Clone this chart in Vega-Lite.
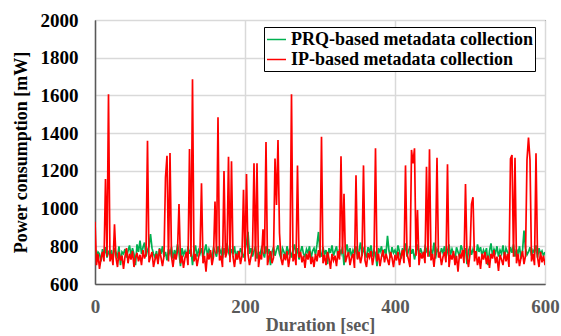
{
"$schema": "https://vega.github.io/schema/vega-lite/v6.json",
"width": 450, "height": 264,
"autosize": {"type": "none"},
"padding": {"left": 95, "top": 20, "right": 16, "bottom": 52},
"background": "white",
"config": {"view": {"stroke": "#000000", "strokeWidth": 1}, "font": "Liberation Serif"},
"data": {"values": [
{"t":0,"prq":790,"ip":930},{"t":2,"prq":745,"ip":700},{"t":4,"prq":770,"ip":760},{"t":6,"prq":760,"ip":680},{"t":8,"prq":720,"ip":735},{"t":10,"prq":785,"ip":770},{"t":12,"prq":750,"ip":720},{"t":14,"prq":795,"ip":1157},{"t":16,"prq":740,"ip":745},{"t":18,"prq":770,"ip":1606},
{"t":20,"prq":755,"ip":720},{"t":22,"prq":780,"ip":760},{"t":24,"prq":730,"ip":700},{"t":26,"prq":790,"ip":917},{"t":28,"prq":765,"ip":740},{"t":30,"prq":745,"ip":690},{"t":32,"prq":800,"ip":770},{"t":34,"prq":700,"ip":725},{"t":36,"prq":770,"ip":750},{"t":38,"prq":760,"ip":680},
{"t":40,"prq":785,"ip":745},{"t":42,"prq":740,"ip":790},{"t":44,"prq":775,"ip":710},{"t":46,"prq":805,"ip":760},{"t":48,"prq":750,"ip":730},{"t":50,"prq":790,"ip":775},{"t":52,"prq":760,"ip":690},{"t":54,"prq":700,"ip":740},{"t":56,"prq":810,"ip":765},{"t":58,"prq":770,"ip":720},
{"t":60,"prq":830,"ip":755},{"t":62,"prq":760,"ip":700},{"t":64,"prq":795,"ip":780},{"t":66,"prq":820,"ip":735},{"t":68,"prq":745,"ip":760},{"t":70,"prq":780,"ip":1360},{"t":72,"prq":800,"ip":715},{"t":74,"prq":865,"ip":745},{"t":76,"prq":790,"ip":770},{"t":78,"prq":760,"ip":690},
{"t":80,"prq":740,"ip":730},{"t":82,"prq":775,"ip":760},{"t":84,"prq":720,"ip":705},{"t":86,"prq":790,"ip":785},{"t":88,"prq":760,"ip":740},{"t":90,"prq":800,"ip":695},{"t":92,"prq":745,"ip":750},{"t":94,"prq":770,"ip":1166},{"t":96,"prq":725,"ip":1280},{"t":98,"prq":785,"ip":720},
{"t":100,"prq":760,"ip":1295},{"t":102,"prq":795,"ip":745},{"t":104,"prq":735,"ip":690},{"t":106,"prq":780,"ip":760},{"t":108,"prq":750,"ip":730},{"t":110,"prq":810,"ip":775},{"t":112,"prq":765,"ip":1024},{"t":114,"prq":695,"ip":710},{"t":116,"prq":790,"ip":750},{"t":118,"prq":755,"ip":685},
{"t":120,"prq":775,"ip":740},{"t":122,"prq":740,"ip":770},{"t":124,"prq":800,"ip":700},{"t":126,"prq":760,"ip":1316},{"t":128,"prq":785,"ip":745},{"t":130,"prq":700,"ip":1686},{"t":132,"prq":770,"ip":720},{"t":134,"prq":805,"ip":760},{"t":136,"prq":745,"ip":695},{"t":138,"prq":780,"ip":740},
{"t":140,"prq":760,"ip":775},{"t":142,"prq":790,"ip":1134},{"t":144,"prq":735,"ip":710},{"t":146,"prq":775,"ip":750},{"t":148,"prq":810,"ip":665},{"t":150,"prq":750,"ip":765},{"t":152,"prq":785,"ip":730},{"t":154,"prq":765,"ip":780},{"t":156,"prq":730,"ip":700},{"t":158,"prq":795,"ip":745},
{"t":160,"prq":770,"ip":1038},{"t":162,"prq":745,"ip":760},{"t":164,"prq":800,"ip":1484},{"t":166,"prq":760,"ip":725},{"t":168,"prq":780,"ip":750},{"t":170,"prq":735,"ip":690},{"t":172,"prq":790,"ip":1199},{"t":174,"prq":755,"ip":740},{"t":176,"prq":815,"ip":770},{"t":178,"prq":770,"ip":1275},
{"t":180,"prq":745,"ip":715},{"t":182,"prq":785,"ip":1251},{"t":184,"prq":760,"ip":745},{"t":186,"prq":800,"ip":690},{"t":188,"prq":730,"ip":760},{"t":190,"prq":775,"ip":730},{"t":192,"prq":750,"ip":775},{"t":194,"prq":790,"ip":705},{"t":196,"prq":765,"ip":750},{"t":198,"prq":740,"ip":1100},
{"t":200,"prq":780,"ip":720},{"t":202,"prq":820,"ip":1183},{"t":204,"prq":877,"ip":760},{"t":206,"prq":760,"ip":700},{"t":208,"prq":790,"ip":745},{"t":210,"prq":745,"ip":780},{"t":212,"prq":775,"ip":1240},{"t":214,"prq":800,"ip":720},{"t":216,"prq":735,"ip":1240},{"t":218,"prq":770,"ip":690},
{"t":220,"prq":755,"ip":755},{"t":222,"prq":790,"ip":730},{"t":224,"prq":765,"ip":890},{"t":226,"prq":740,"ip":760},{"t":228,"prq":800,"ip":1353},{"t":230,"prq":760,"ip":700},{"t":232,"prq":785,"ip":745},{"t":234,"prq":700,"ip":775},{"t":236,"prq":770,"ip":710},{"t":238,"prq":795,"ip":740},
{"t":240,"prq":750,"ip":1265},{"t":242,"prq":780,"ip":1019},{"t":244,"prq":805,"ip":1364},{"t":246,"prq":760,"ip":870},{"t":248,"prq":735,"ip":735},{"t":250,"prq":790,"ip":700},{"t":252,"prq":770,"ip":760},{"t":254,"prq":745,"ip":725},{"t":256,"prq":800,"ip":775},{"t":258,"prq":765,"ip":690},
{"t":260,"prq":785,"ip":745},{"t":262,"prq":740,"ip":1606},{"t":264,"prq":775,"ip":720},{"t":266,"prq":810,"ip":760},{"t":268,"prq":755,"ip":700},{"t":270,"prq":790,"ip":1229},{"t":272,"prq":730,"ip":740},{"t":274,"prq":770,"ip":770},{"t":276,"prq":800,"ip":715},{"t":278,"prq":760,"ip":750},
{"t":280,"prq":745,"ip":685},{"t":282,"prq":785,"ip":760},{"t":284,"prq":765,"ip":730},{"t":286,"prq":800,"ip":775},{"t":288,"prq":735,"ip":705},{"t":290,"prq":775,"ip":745},{"t":292,"prq":790,"ip":690},{"t":294,"prq":755,"ip":760},{"t":296,"prq":810,"ip":720},{"t":298,"prq":876,"ip":780},
{"t":300,"prq":770,"ip":740},{"t":302,"prq":745,"ip":1381},{"t":304,"prq":795,"ip":710},{"t":306,"prq":760,"ip":755},{"t":308,"prq":780,"ip":700},{"t":310,"prq":705,"ip":770},{"t":312,"prq":790,"ip":735},{"t":314,"prq":765,"ip":680},{"t":316,"prq":805,"ip":760},{"t":318,"prq":750,"ip":725},
{"t":320,"prq":775,"ip":750},{"t":322,"prq":800,"ip":695},{"t":324,"prq":740,"ip":775},{"t":326,"prq":785,"ip":730},{"t":328,"prq":760,"ip":1277},{"t":330,"prq":795,"ip":760},{"t":332,"prq":700,"ip":1079},{"t":334,"prq":770,"ip":715},{"t":336,"prq":810,"ip":745},{"t":338,"prq":755,"ip":770},
{"t":340,"prq":790,"ip":700},{"t":342,"prq":745,"ip":740},{"t":344,"prq":780,"ip":760},{"t":346,"prq":760,"ip":685},{"t":348,"prq":800,"ip":1176},{"t":350,"prq":735,"ip":730},{"t":352,"prq":775,"ip":770},{"t":354,"prq":820,"ip":710},{"t":356,"prq":750,"ip":750},{"t":358,"prq":785,"ip":1229},
{"t":360,"prq":765,"ip":725},{"t":362,"prq":740,"ip":690},{"t":364,"prq":795,"ip":765},{"t":366,"prq":770,"ip":740},{"t":368,"prq":805,"ip":775},{"t":370,"prq":745,"ip":700},{"t":372,"prq":780,"ip":750},{"t":374,"prq":760,"ip":1320},{"t":376,"prq":695,"ip":720},{"t":378,"prq":790,"ip":760},
{"t":380,"prq":770,"ip":695},{"t":382,"prq":800,"ip":745},{"t":384,"prq":745,"ip":780},{"t":386,"prq":785,"ip":715},{"t":388,"prq":760,"ip":760},{"t":390,"prq":855,"ip":730},{"t":392,"prq":775,"ip":700},{"t":394,"prq":740,"ip":770},{"t":396,"prq":795,"ip":740},{"t":398,"prq":765,"ip":690},
{"t":400,"prq":780,"ip":755},{"t":402,"prq":750,"ip":725},{"t":404,"prq":805,"ip":770},{"t":406,"prq":770,"ip":700},{"t":408,"prq":735,"ip":745},{"t":410,"prq":790,"ip":780},{"t":412,"prq":760,"ip":710},{"t":414,"prq":815,"ip":1229},{"t":416,"prq":745,"ip":760},{"t":418,"prq":775,"ip":730},
{"t":420,"prq":800,"ip":690},{"t":422,"prq":760,"ip":1311},{"t":424,"prq":785,"ip":1240},{"t":426,"prq":730,"ip":1320},{"t":428,"prq":770,"ip":750},{"t":430,"prq":810,"ip":992},{"t":432,"prq":750,"ip":700},{"t":434,"prq":790,"ip":765},{"t":436,"prq":765,"ip":735},{"t":438,"prq":740,"ip":770},
{"t":440,"prq":795,"ip":710},{"t":442,"prq":775,"ip":1222},{"t":444,"prq":805,"ip":745},{"t":446,"prq":745,"ip":1314},{"t":448,"prq":780,"ip":725},{"t":450,"prq":760,"ip":760},{"t":452,"prq":820,"ip":690},{"t":454,"prq":735,"ip":775},{"t":456,"prq":785,"ip":1270},{"t":458,"prq":770,"ip":740},
{"t":460,"prq":750,"ip":760},{"t":462,"prq":790,"ip":700},{"t":464,"prq":765,"ip":745},{"t":466,"prq":800,"ip":770},{"t":468,"prq":740,"ip":715},{"t":470,"prq":775,"ip":1235},{"t":472,"prq":810,"ip":690},{"t":474,"prq":755,"ip":755},{"t":476,"prq":785,"ip":730},{"t":478,"prq":760,"ip":775},
{"t":480,"prq":730,"ip":700},{"t":482,"prq":795,"ip":750},{"t":484,"prq":770,"ip":665},{"t":486,"prq":745,"ip":760},{"t":488,"prq":805,"ip":735},{"t":490,"prq":780,"ip":780},{"t":492,"prq":760,"ip":710},{"t":494,"prq":790,"ip":1130},{"t":496,"prq":705,"ip":745},{"t":498,"prq":775,"ip":690},
{"t":500,"prq":800,"ip":760},{"t":502,"prq":755,"ip":1024},{"t":504,"prq":785,"ip":1060},{"t":506,"prq":765,"ip":720},{"t":508,"prq":740,"ip":775},{"t":510,"prq":810,"ip":700},{"t":512,"prq":770,"ip":745},{"t":514,"prq":795,"ip":680},{"t":516,"prq":750,"ip":760},{"t":518,"prq":780,"ip":730},
{"t":520,"prq":760,"ip":770},{"t":522,"prq":790,"ip":705},{"t":524,"prq":700,"ip":750},{"t":526,"prq":775,"ip":685},{"t":528,"prq":815,"ip":760},{"t":530,"prq":750,"ip":735},{"t":532,"prq":785,"ip":780},{"t":534,"prq":765,"ip":710},{"t":536,"prq":800,"ip":745},{"t":538,"prq":745,"ip":670},
{"t":540,"prq":780,"ip":755},{"t":542,"prq":760,"ip":730},{"t":544,"prq":805,"ip":700},{"t":546,"prq":740,"ip":770},{"t":548,"prq":790,"ip":720},{"t":550,"prq":770,"ip":760},{"t":552,"prq":750,"ip":690},{"t":554,"prq":795,"ip":1265},{"t":556,"prq":765,"ip":1284},{"t":558,"prq":810,"ip":745},
{"t":560,"prq":745,"ip":1270},{"t":562,"prq":785,"ip":710},{"t":564,"prq":760,"ip":760},{"t":566,"prq":800,"ip":695},{"t":568,"prq":735,"ip":740},{"t":570,"prq":775,"ip":775},{"t":572,"prq":883,"ip":705},{"t":574,"prq":790,"ip":750},{"t":576,"prq":755,"ip":1260},{"t":578,"prq":770,"ip":1376},
{"t":580,"prq":795,"ip":1258},{"t":582,"prq":750,"ip":720},{"t":584,"prq":780,"ip":760},{"t":586,"prq":765,"ip":700},{"t":588,"prq":805,"ip":1293},{"t":590,"prq":740,"ip":745},{"t":592,"prq":790,"ip":690},{"t":594,"prq":760,"ip":770},{"t":596,"prq":775,"ip":715},{"t":598,"prq":750,"ip":750},{"t":600,"prq":770,"ip":700}
]},
"transform": [{"fold": ["prq", "ip"], "as": ["series", "power"]}],
"mark": {"type": "line", "strokeWidth": 1.7, "clip": true},
"encoding": {
"x": {"field": "t", "type": "quantitative",
"scale": {"domain": [0, 600], "nice": false},
"axis": {"values": [0, 200, 400, 600], "format": "d", "title": "Duration [sec]", "ticks": false,
"labelFont": "Liberation Serif", "labelFontWeight": "bold", "labelFontSize": 19, "labelColor": "#595959", "labelPadding": 13,
"titleFont": "Liberation Serif", "titleFontWeight": "bold", "titleFontSize": 18, "titleColor": "#595959", "titlePadding": 0,
"grid": true, "gridColor": "#D9D9D9", "gridWidth": 1.5, "domainColor": "#595959", "domainWidth": 1.5, "labelFlush": false}},
"y": {"field": "power", "type": "quantitative",
"scale": {"domain": [600, 2000], "nice": false, "zero": false},
"axis": {"values": [600, 800, 1000, 1200, 1400, 1600, 1800, 2000], "format": "d", "title": "Power consumption [mW]", "ticks": false,
"labelFont": "Liberation Serif", "labelFontWeight": "bold", "labelFontSize": 19, "labelColor": "#000000", "labelPadding": 17,
"titleFont": "Liberation Serif", "titleFontWeight": "bold", "titleFontSize": 18, "titleColor": "#000000", "titlePadding": 10,
"grid": true, "gridColor": "#D9D9D9", "gridWidth": 1.5, "domainColor": "#595959", "domainWidth": 1.5, "labelFlush": false}},
"color": {"field": "series", "type": "nominal",
"scale": {"domain": ["prq", "ip"], "range": ["#00B050", "#FF0000"]},
"legend": {"title": null, "orient": "none", "legendX": 169, "legendY": 7,
"labelExpr": "datum.label == 'prq' ? 'PRQ-based metadata collection' : 'IP-based metadata collection'",
"labelFont": "Liberation Serif", "labelFontWeight": "bold", "labelFontSize": 18, "labelColor": "#000000", "labelLimit": 400,
"symbolType": "stroke", "symbolSize": 361, "symbolStrokeWidth": 1.5, "labelOffset": 4, "rowPadding": 0,
"padding": 2, "strokeColor": "#000000", "fillColor": "#FFFFFF", "cornerRadius": 0}}
}
}
